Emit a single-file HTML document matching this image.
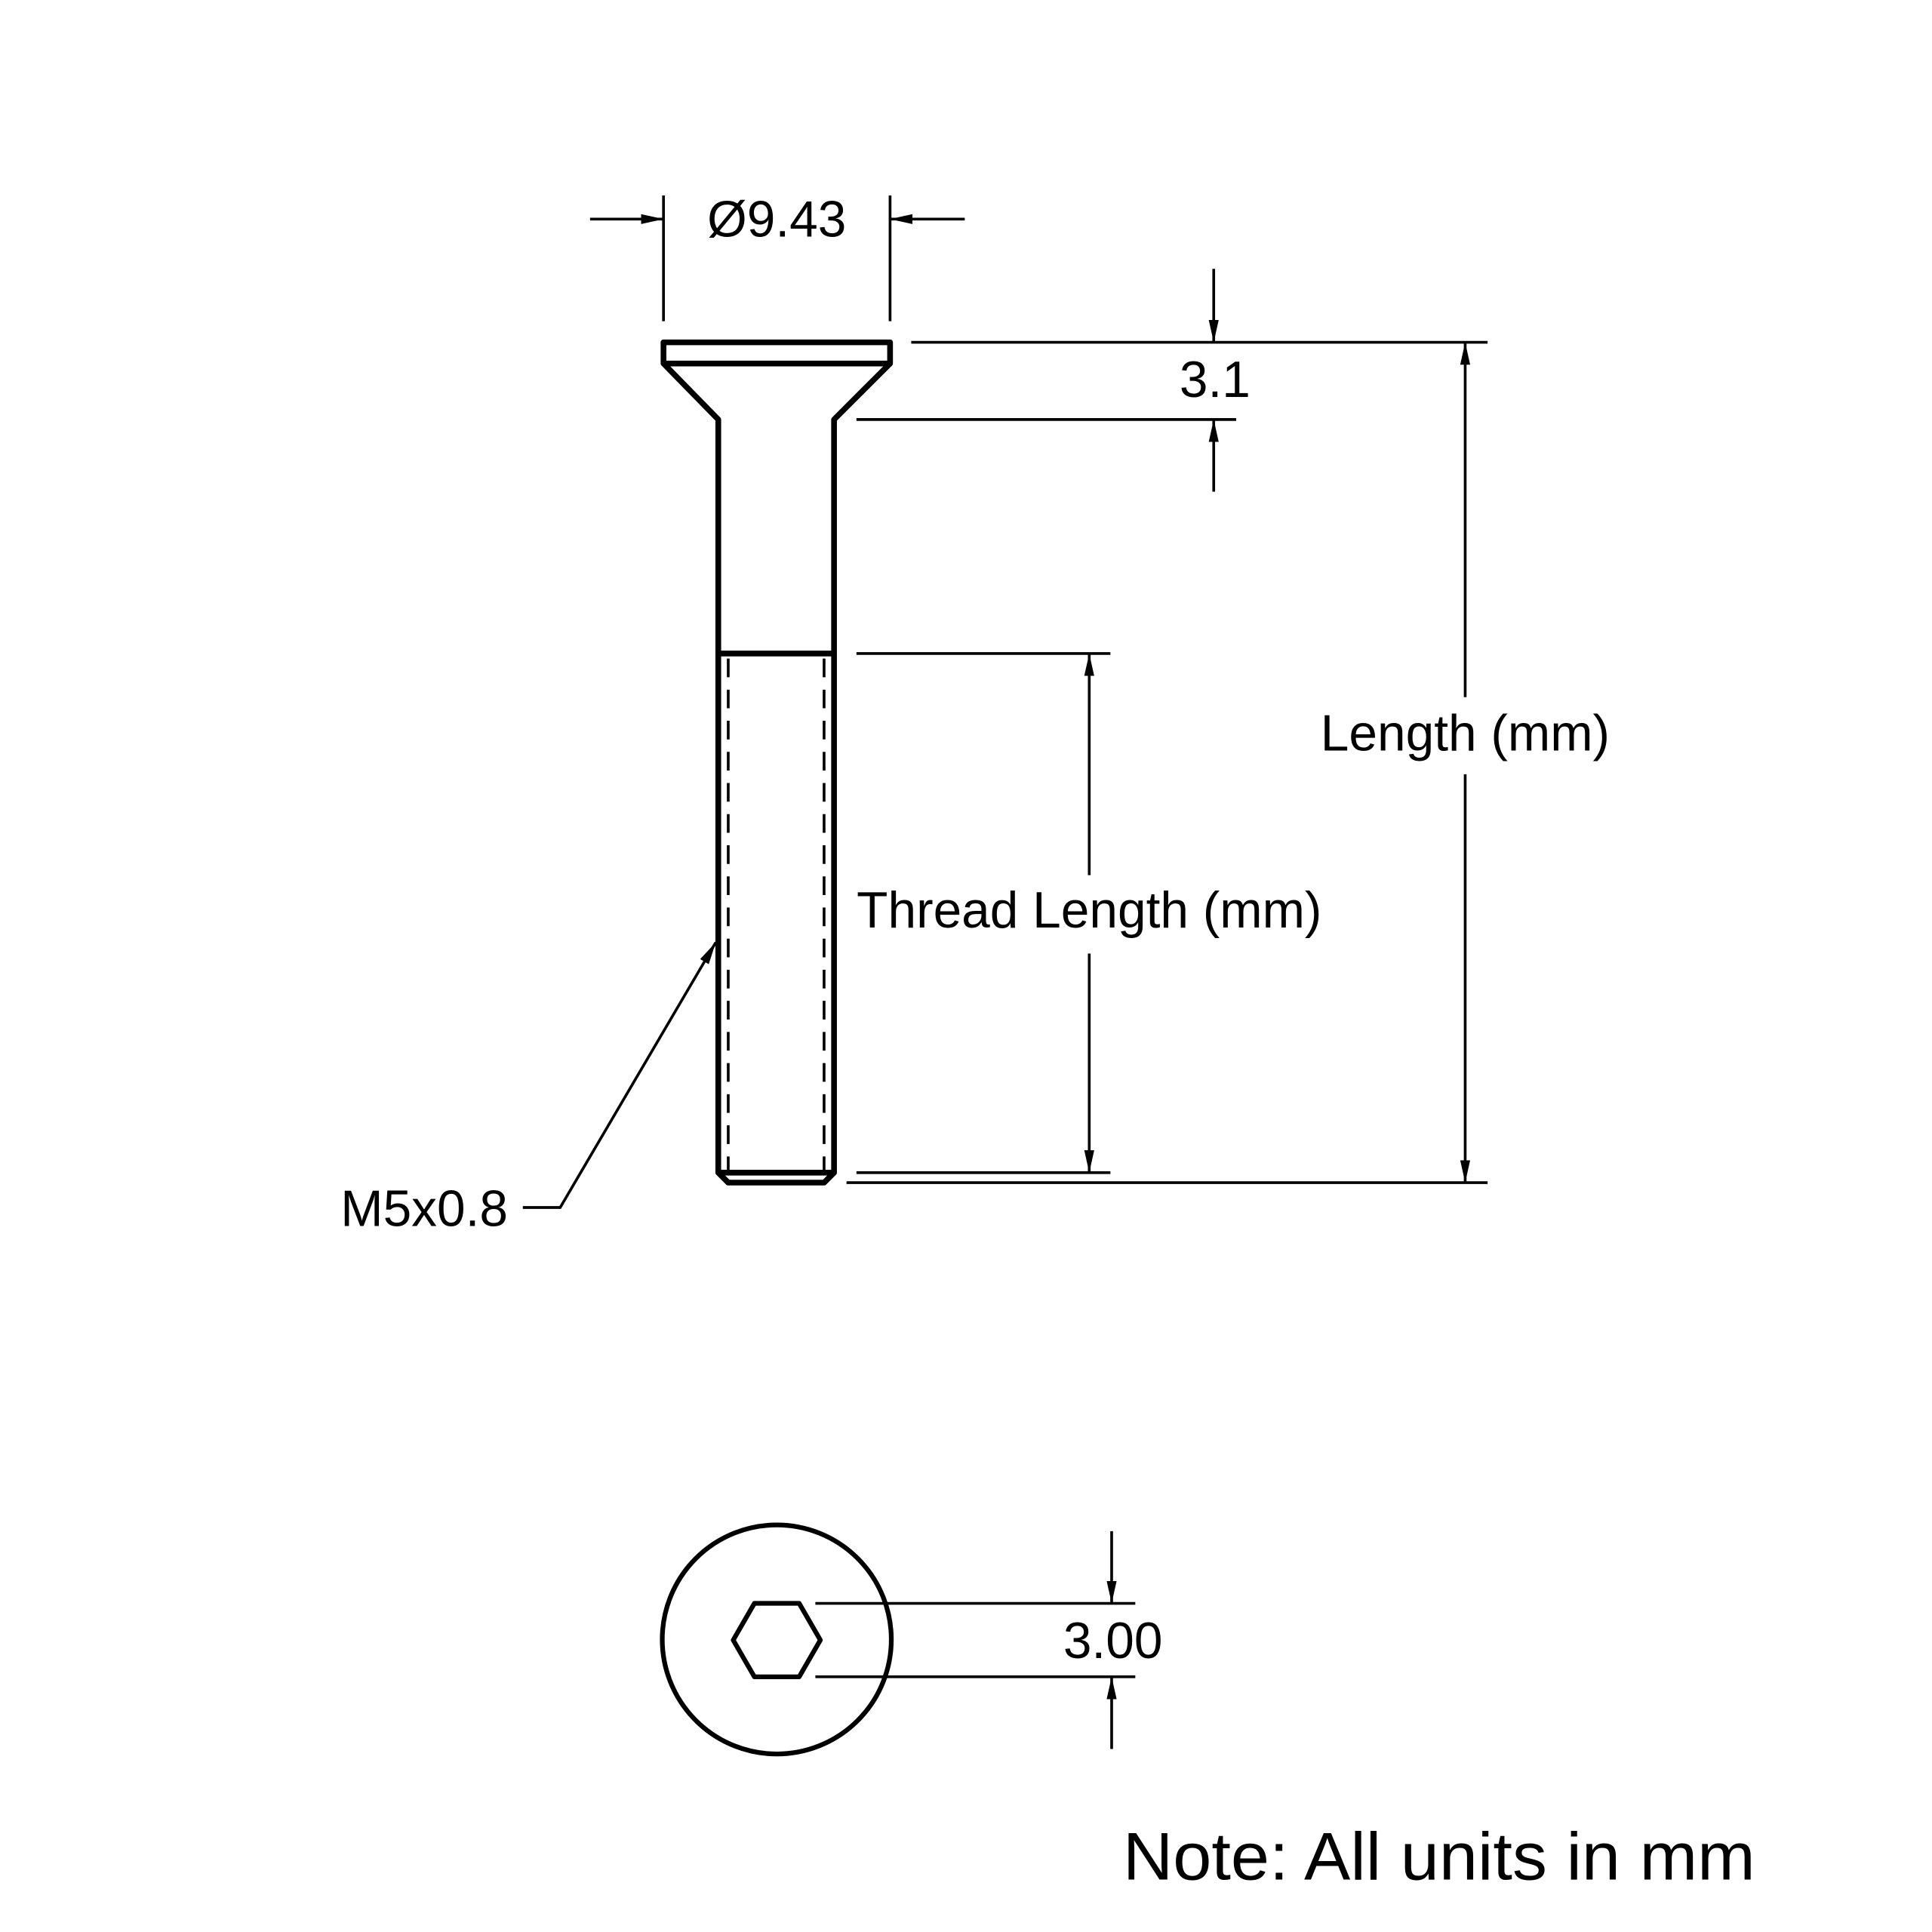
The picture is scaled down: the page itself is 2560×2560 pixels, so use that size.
<!DOCTYPE html>
<html><head><meta charset="utf-8"><style>html,body{margin:0;padding:0;background:#fff}svg{display:block}</style></head>
<body>
<svg width="2560" height="2560" viewBox="0 0 1552 1552" xmlns="http://www.w3.org/2000/svg">
<defs>
<marker id="a" viewBox="0 0 18 8" refX="18" refY="4" markerWidth="18" markerHeight="8" markerUnits="userSpaceOnUse" orient="auto"><path d="M0,0L18,4L0,8z" fill="#000"/></marker>
</defs>
<g fill="none" stroke="#000" stroke-width="4.6" stroke-linejoin="round">
<rect x="533" y="275" width="182" height="17"/>
<path d="M533,292L577,337L577,942L585,950L662,950L670,942L670,337L715,292"/>
<line x1="577" y1="525" x2="670" y2="525"/>
<line x1="577" y1="942" x2="670" y2="942"/>
<circle cx="624" cy="1317" r="92" stroke-width="3.8"/>
<path d="M606,1288L642,1288L659,1317.5L642,1347L606,1347L589,1317.5Z" stroke-width="3.8"/>
</g>
<g fill="none" stroke="#000" stroke-width="2.2">
<line x1="585" y1="525" x2="585" y2="942" stroke-dasharray="15,10" stroke-dashoffset="-4"/>
<line x1="662" y1="525" x2="662" y2="942" stroke-dasharray="15,10" stroke-dashoffset="-4"/>
<line x1="533" y1="157" x2="533" y2="258"/>
<line x1="715" y1="157" x2="715" y2="258"/>
<line x1="474" y1="176" x2="533" y2="176" marker-end="url(#a)"/>
<line x1="775" y1="176" x2="715" y2="176" marker-end="url(#a)"/>
<line x1="732" y1="275" x2="1195" y2="275"/>
<line x1="688" y1="337" x2="993" y2="337"/>
<line x1="975" y1="216" x2="975" y2="275" marker-end="url(#a)"/>
<line x1="975" y1="395" x2="975" y2="337" marker-end="url(#a)"/>
<line x1="680" y1="950" x2="1195" y2="950"/>
<line x1="1177" y1="560" x2="1177" y2="275" marker-end="url(#a)"/>
<line x1="1177" y1="622" x2="1177" y2="950" marker-end="url(#a)"/>
<line x1="688" y1="525" x2="892" y2="525"/>
<line x1="688" y1="942" x2="892" y2="942"/>
<line x1="875" y1="703" x2="875" y2="525" marker-end="url(#a)"/>
<line x1="875" y1="766" x2="875" y2="942" marker-end="url(#a)"/>
<polyline points="420,970 450,970 575,757" marker-end="url(#a)"/>
<line x1="655" y1="1288" x2="912" y2="1288"/>
<line x1="655" y1="1347" x2="912" y2="1347"/>
<line x1="893" y1="1230" x2="893" y2="1288" marker-end="url(#a)"/>
<line x1="893" y1="1405" x2="893" y2="1347" marker-end="url(#a)"/>
</g>
<g font-family="Liberation Sans, sans-serif" font-size="41" fill="#000">
<text x="624" y="190" text-anchor="middle">Ø9.43</text>
<text x="976" y="319" text-anchor="middle">3.1</text>
<text x="1177" y="603" text-anchor="middle">Length (mm)</text>
<text x="875" y="745" text-anchor="middle">Thread Length (mm)</text>
<text x="408" y="985" text-anchor="end">M5x0.8</text>
<text x="894" y="1332" text-anchor="middle">3.00</text>
<text x="902" y="1510" font-size="54" textLength="508" lengthAdjust="spacingAndGlyphs">Note: All units in mm</text>
</g>
</svg>
</body></html>
